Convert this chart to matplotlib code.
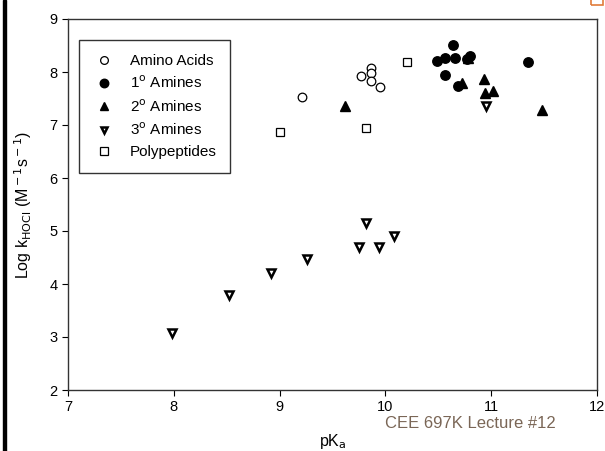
#Scatter of Log k_HOCl against pKa for the different amine classes
import numpy as np
import matplotlib.pyplot as plt
from matplotlib.patches import Rectangle

#%% DATA
aminoPka = [9.21, 9.77, 9.86, 9.86, 9.86, 9.95]
aminoLogK = [7.52, 7.93, 8.07, 7.99, 7.83, 7.72]

prim_pka = [10.49, 10.56, 10.64, 10.66, 10.56, 10.69, 10.80, 10.77, 11.35]
prim_logk = [8.21, 8.27, 8.51, 8.27, 7.95, 7.73, 8.31, 8.25, 8.18]

sec_pka = [9.62, 10.78, 10.72, 10.93, 10.94, 11.02, 11.48]
sec_logk = [7.35, 8.26, 7.80, 7.87, 7.61, 7.64, 7.28]

tert_pka = [7.98, 8.52, 8.92, 9.26, 9.75, 9.82, 9.94, 10.08, 10.95]
tert_logk = [3.07, 3.80, 4.20, 4.47, 4.69, 5.15, 4.69, 4.90, 7.35]

poly_pka = [9.00, 9.82, 10.20]
poly_logk = [6.86, 6.95, 8.19]

seriesNames = ["Amino Acids", "1$^{\\rm o}$ Amines", "2$^{\\rm o}$ Amines",
               "3$^{\\rm o}$ Amines", "Polypeptides"]

#%% PLOT
plt.rcParams["font.family"] = ["Liberation Sans", "DejaVu Sans"]
fig = plt.figure(figsize=(6.05, 4.51), dpi=100)
ax = fig.add_axes([68/605, 1-390/451, 529/605, 371/451])

ax.plot(aminoPka, aminoLogK, "o", ms=6.2, mfc="white", mec="black", mew=0.9, ls="none", label=seriesNames[0])
ax.plot(prim_pka, prim_logk, "o", ms=6.8, mfc="black", mec="black", ls="none", label=seriesNames[1])
ax.plot(sec_pka, sec_logk, "^", ms=7, mfc="black", mec="black", ls="none", label=seriesNames[2])
ax.plot(tert_pka, tert_logk, "v", ms=5.2, mfc="white", mec="black", mew=1.8, ls="none", label=seriesNames[3])
ax.plot(poly_pka, poly_logk, "s", ms=5.8, mfc="white", mec="black", mew=0.9, ls="none", label=seriesNames[4])

ax.set_xlim(7, 12)
ax.set_ylim(2, 9)
ax.set_xticks(range(7, 13))
ax.set_yticks(range(2, 10))
ax.tick_params(direction="out", length=4, labelsize=10.5, colors="black")
for s in ax.spines.values():
    s.set_color("#333333")
    s.set_linewidth(1.0)

ax.set_xlabel("pK$_{\\rm a}$", fontsize=11.5, labelpad=13)
ax.set_ylabel("Log k$_{\\rm HOCl}$ (M$^{\\rm -1}$s$^{\\rm -1}$)", fontsize=11.5, labelpad=11)

leg = ax.legend(loc="upper left", bbox_to_anchor=(0.021, 0.943), borderaxespad=0, fontsize=11,
                frameon=True, fancybox=False, edgecolor="black", handletextpad=0.9,
                borderpad=0.9, labelspacing=0.45, handlelength=1.5, markerscale=0.9)
leg.get_frame().set_linewidth(1.0)

fig.text(470/605, 1-424/451, "CEE 697K Lecture #12", color="#7a6656", fontsize=12,
         ha="center", va="center")

# slide decorations: left bar and orange corner box
fig.patches.append(Rectangle((3/605, 0), 2.5/605, 1, transform=fig.transFigure,
                             color="black", zorder=5))
fig.patches.append(Rectangle((591/605, 1-5/451), 12/605, 6/451, transform=fig.transFigure,
                             fill=False, edgecolor="#e07b39", lw=1.2))

fig.savefig("out.png", dpi=100)
